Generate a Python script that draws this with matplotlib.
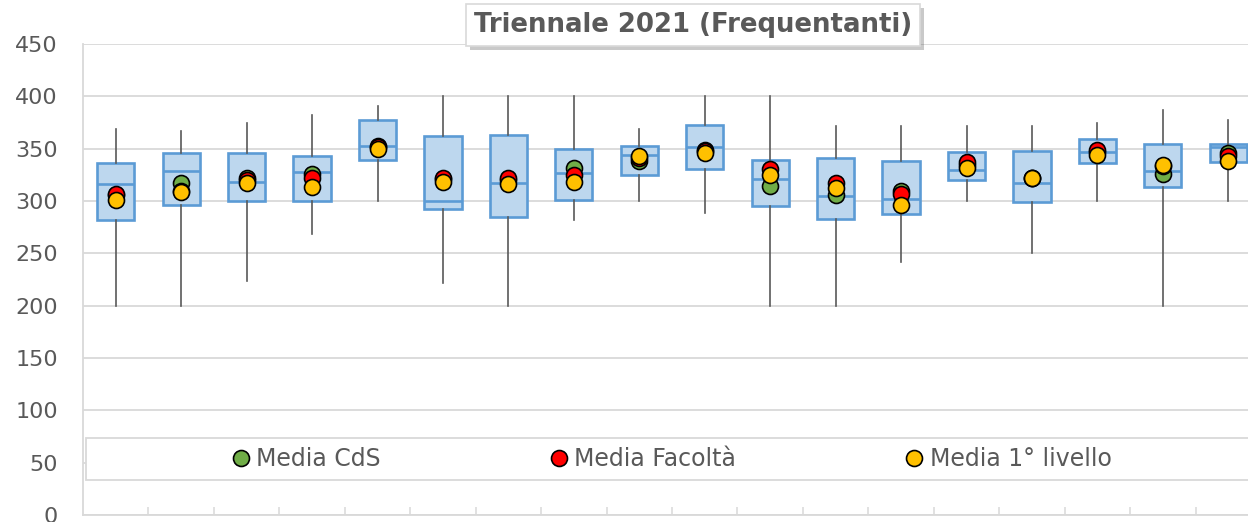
import matplotlib
matplotlib.use("Agg")
import matplotlib.pyplot as plt
from matplotlib.lines import Line2D
from matplotlib.patches import Rectangle
import matplotlib.patheffects as pe
import matplotlib.transforms as mtransforms

# ---- data ----
whisker_low = [200, 200, 224, 268, 300, 222, 200, 282, 300, 289, 200, 200, 242, 300, 250, 300, 200, 300]
q1 = [282, 296, 300, 300, 339, 292, 285, 301, 325, 331, 295, 283, 288, 320, 299, 336, 313, 337]
median = [316, 329, 318, 328, 353, 300, 317, 327, 344, 352, 321, 305, 302, 330, 317, 347, 329, 352]
q3 = [336, 346, 346, 343, 377, 362, 363, 350, 353, 373, 339, 341, 338, 347, 348, 359, 354, 354]
whisker_high = [369, 367, 375, 382, 391, 400, 400, 400, 369, 400, 400, 372, 372, 372, 372, 375, 387, 377]
media_cds = [306, 317, 322, 326, 353, 321, 320, 332, 338, 349, 314, 306, 310, 334, 322, 347, 326, 346]
media_fac = [307, 310, 320, 322, 352, 322, 322, 325, 341, 348, 331, 317, 307, 337, 322, 349, 333, 343]
media_liv = [301, 309, 317, 313, 350, 318, 316, 318, 343, 346, 325, 312, 296, 332, 322, 344, 334, 338]
y_ticks = [0, 50, 100, 150, 200, 250, 300, 350, 400, 450]
legend_labels = ["Media CdS", "Media Facoltà", "Media 1° livello"]
title = "Triennale 2021 (Frequentanti)"

GRAY_TXT = "#595959"
GRID = "#D9D9D9"
BOX_FILL = "#BDD7EE"
BOX_EDGE = "#5B9BD5"
C_GREEN = "#70AD47"
C_RED = "#FF0000"
C_YEL = "#FFC000"

plt.rcParams['font.family'] = ['DejaVu Sans']

fig = plt.figure(figsize=(12.48, 5.22), dpi=100)
W, H = 1248, 522
left_px, right_px, bottom_px, top_px = 83, 1261, 515, 44
ax = fig.add_axes([left_px / W, (H - bottom_px) / H, (right_px - left_px) / W, (bottom_px - top_px) / H])

n = len(median)
positions = list(range(1, n + 1))
stats = []
for i in range(n):
    stats.append(dict(whislo=whisker_low[i], q1=q1[i], med=median[i], q3=q3[i],
                      whishi=whisker_high[i], fliers=[]))

ax.bxp(stats, positions=positions, widths=0.57, patch_artist=True,
       showcaps=False, showfliers=False,
       boxprops=dict(facecolor=BOX_FILL, edgecolor=BOX_EDGE, linewidth=1.9),
       medianprops=dict(color=BOX_EDGE, linewidth=1.9),
       whiskerprops=dict(color=GRAY_TXT, linewidth=1.2),
       zorder=3)

ms = 11.5
for vals, col in [(media_cds, C_GREEN), (media_fac, C_RED), (media_liv, C_YEL)]:
    ax.plot(positions, vals, linestyle='none', marker='o', markersize=ms,
            markerfacecolor=col, markeredgecolor='black', markeredgewidth=1.2, zorder=5)

ax.set_xlim(0.5, n + 0.5)
ax.set_ylim(0, 450)
ax.set_yticks(y_ticks)
ax.set_xticks([p + 0.5 for p in positions[:-1]])
ax.set_xticklabels([])
ax.tick_params(axis='x', direction='in', length=6, width=1.1, color=GRID)
ax.tick_params(axis='y', length=0, pad=18, labelsize=16, labelcolor=GRAY_TXT)
ax.yaxis.grid(True, color=GRID, linewidth=1.3, zorder=0)
ax.set_axisbelow(True)
for s in ['top', 'right']:
    ax.spines[s].set_visible(False)
for s in ['left', 'bottom']:
    ax.spines[s].set_color(GRID)
    ax.spines[s].set_linewidth(1.3)

# legend frame (white box covering the 50 gridline)
trans = mtransforms.blended_transform_factory(ax.transAxes, ax.transData)
frame = Rectangle((3 / (right_px - left_px), 33.5), 0.995, 40, transform=trans,
                  facecolor='white', edgecolor=GRID, linewidth=1.3, zorder=6)
ax.add_patch(frame)

handles = [Line2D([], [], linestyle='none', marker='o', markersize=ms, markerfacecolor=c,
                  markeredgecolor='black', markeredgewidth=1.2)
           for c in (C_GREEN, C_RED, C_YEL)]
leg = ax.legend(handles, legend_labels, loc='center', bbox_to_anchor=(0.5, 53.5),
                bbox_transform=trans, ncol=3, frameon=False, fontsize=17,
                labelcolor=GRAY_TXT, handlelength=0.7, handletextpad=0.3,
                columnspacing=7.2, borderpad=0)
leg.set_zorder(7)

t = fig.text(693 / W, 1 - 25 / H, title, ha='center', va='center', fontsize=18.7,
             fontweight='bold', color=GRAY_TXT,
             bbox=dict(boxstyle='square,pad=0.3', facecolor='white', edgecolor=GRID, linewidth=1.2))
t.get_bbox_patch().set_path_effects([pe.SimplePatchShadow(offset=(3, -3), alpha=0.3), pe.Normal()])

fig.savefig("out.png", dpi=100)
